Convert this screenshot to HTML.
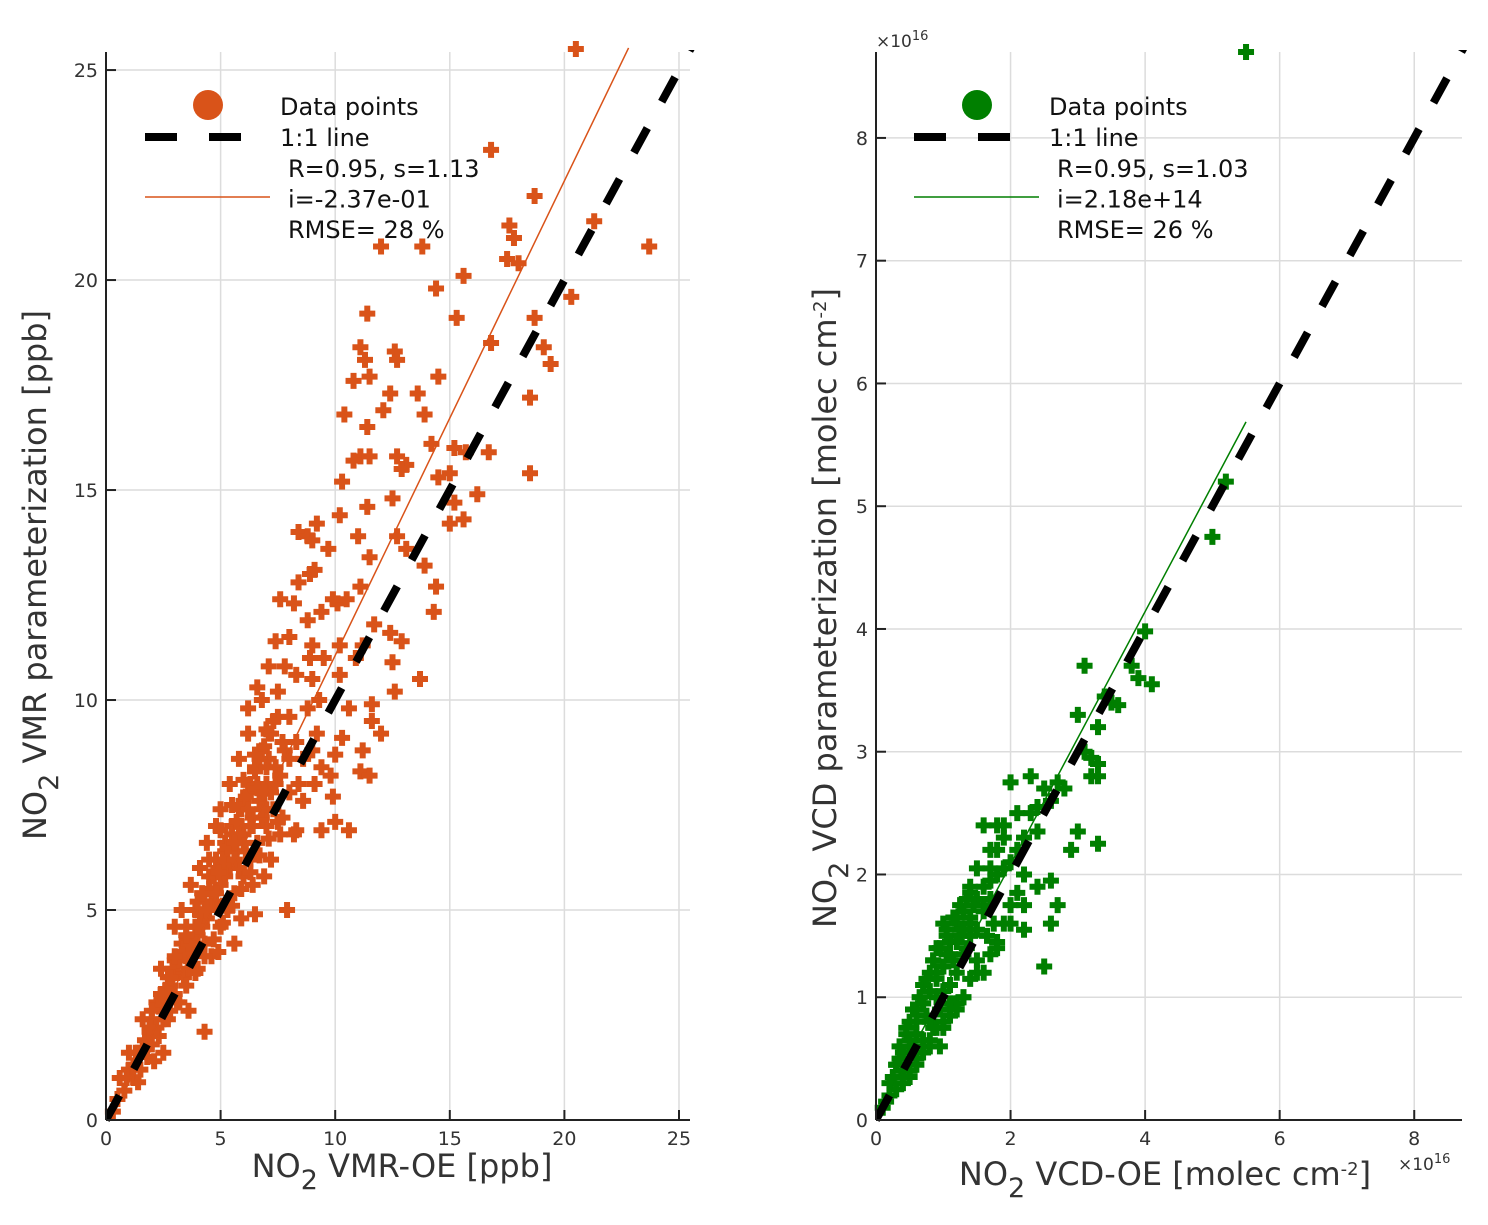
<!DOCTYPE html>
<html><head><meta charset="utf-8"><style>
body{margin:0;background:#fff;}
svg{display:block;font-family:"DejaVu Sans","Liberation Sans",sans-serif;}
</style></head><body>
<svg id="chart" width="1488" height="1225" viewBox="0 0 1488 1225" xmlns="http://www.w3.org/2000/svg">
<g id="left"></g>
<g id="right"></g>
</svg>
<script>
const leftTicks=[0,5,10,15,20,25];
const rightTicks=[0,2,4,6,8];
const rightYTicks=[0,1,2,3,4,5,6,7,8];
const leftFit={s:1.13,i:-0.237,x0:0.2,x1:22.8};
const rightFit={s:1.03,i:0.0218,x0:0,x1:5.5};
const leftX=[20.5,16.8,18.7,21.3,23.7,17.6,17.8,12.0,13.8,17.5,18.0,20.3,14.4,15.6,11.4,15.3,18.7,19.1,16.8,11.1,11.3,12.6,12.7,19.4,10.8,11.5,14.5,12.4,13.6,18.5,10.4,12.1,13.9,11.4,14.2,12.7,15.2,15.7,11.1,11.5,16.7,10.8,13.1,12.9,15.0,18.5,10.3,14.5,12.5,11.4,16.2,15.2,15.6,15.0,8.4,9.2,8.8,9.0,10.2,11.0,12.7,13.1,9.7,11.5,13.9,8.9,9.1,8.4,11.1,14.4,10.1,7.6,8.2,9.9,10.5,14.3,9.4,8.8,11.7,12.4,7.4,8.0,9.0,10.2,11.2,12.9,9.5,10.9,7.1,7.8,12.5,6.6,9.0,10.2,13.7,12.6,10.6,11.6,11.6,12.0,10.3,11.2,10.0,9.8,11.1,11.5,9.1,9.9,10.0,9.4,10.6,8.3,
0.5,0.8,1,1.2,1.4,1.5,1.7,1.8,2,2,2.2,2.3,2.5,2.5,2.7,2.8,3,3,3.2,3.3,3.4,3.5,3.6,3.8,3.9,4,4,4.2,4.3,4.4,4.5,4.6,4.7,4.8,5,5,5.2,5.3,5.4,5.5,5.6,5.7,5.8,6,6,6.2,6.3,6.4,6.5,6.6,6.7,6.8,7,7,7.2,7.3,7.4,7.5,7.6,7.8,8,8,8.3,8.6,8.8,9.2,6.2,6.8,5.8,5.0,4.4,3.7,3.0,2.4,1.6,1.0,0.6,2.1,3.6,4.9,5.9,6.4,7.2,8.2,8.6,9.4,4.3,2.5,1.4,0.3,5.6,6.9,7.7,7.9,6.5,6.2,5.4,4.8,4.1,3.3,1.6,1.9,2.6,3.9,4.5,5.1,5.8,6.1,7.1,7.5,8.3,8.9,9.3,8.4,9.0,2.8,3.1,3.5,4.2,4.6,5.3,5.9,6.6,7.4,6.8,8.0,2.2,1.2,0.9,3.4,2.9,4.0,5.5,6.3,7.0,7.7,6.0,5.2,4.7,
1.3,1.9,2.3,2.6,2.9,3.2,3.4,3.7,3.9,4.1,4.3,4.5,4.7,4.9,5.1,5.3,5.5,5.7,5.9,6.1,6.3,6.5,6.7,6.9,7.1,7.3,2.0,2.4,2.8,3.2,3.6,4.0,4.4,4.8,5.2,5.6,6.0,6.4,6.8,7.2,7.6,2.7,3.1,3.5,3.9,4.3,4.7,5.1,5.5,5.9,6.3,6.7,7.1,7.5,4.5,5.0,5.5,6.0,6.5,7.0,3.0,3.5,4.0,5.8,6.2,6.6,7.0,4.2,4.9,5.6,6.3,6.9];
const leftY=[25.5,23.1,22.0,21.4,20.8,21.3,21.0,20.8,20.8,20.5,20.4,19.6,19.8,20.1,19.2,19.1,19.1,18.4,18.5,18.4,18.1,18.3,18.1,18.0,17.6,17.7,17.7,17.3,17.3,17.2,16.8,16.9,16.8,16.5,16.1,15.8,16.0,15.9,15.8,15.8,15.9,15.7,15.6,15.5,15.4,15.4,15.2,15.3,14.8,14.6,14.9,14.7,14.3,14.2,14.0,14.2,13.9,13.8,14.4,13.9,13.9,13.6,13.6,13.4,13.2,13.0,13.1,12.8,12.7,12.7,12.3,12.4,12.3,12.4,12.4,12.1,12.1,11.9,11.8,11.6,11.4,11.5,11.3,11.3,11.3,11.4,11.0,11.0,10.8,10.8,10.9,10.3,10.5,10.6,10.5,10.2,9.8,9.9,9.5,9.2,9.1,8.8,8.7,8.2,8.3,8.2,8.0,7.7,7.1,6.9,6.9,6.9,
0.5,0.7,1.2,1.0,1.6,1.2,1.9,1.5,2.4,1.8,2.8,2.0,3.0,2.4,3.4,2.6,3.8,3.0,2.8,4.2,3.4,4.6,3.6,4.0,5.0,3.6,4.4,5.4,4.2,4.8,5.8,3.9,5.2,6.2,4.6,5.6,6.6,5.0,6.0,7.0,5.4,6.4,7.4,5.8,6.8,7.8,6.2,7.2,8.4,6.6,7.6,8.8,7.0,8.0,9.2,7.4,8.4,9.6,6.8,8.8,7.8,9.6,9.0,8.6,9.8,9.2,9.8,10.0,8.6,7.4,6.6,5.6,4.6,3.6,2.4,1.6,1.0,1.4,2.6,4.0,4.8,5.6,6.2,6.8,7.6,8.4,2.1,1.6,0.9,0.2,4.2,5.8,7.2,5.0,4.9,9.2,8.0,7.0,6.0,5.0,1.7,2.1,2.9,4.4,5.0,5.1,6.0,6.4,8.6,10.2,10.6,11.0,10.0,8.0,8.8,3.2,3.5,3.9,4.6,5.4,6.2,7.0,8.0,8.0,7.2,8.6,2.2,1.3,1.0,4.0,3.6,5.0,6.6,7.0,7.4,9.0,7.6,6.4,5.8,
1.6,2.2,2.7,3.1,3.4,3.8,4.0,4.3,4.6,4.9,5.2,5.5,5.8,6.0,6.2,6.5,6.8,7.1,7.4,7.7,8.0,8.3,8.6,8.9,9.2,9.5,2.6,3.0,3.4,3.8,4.2,4.6,5.0,5.4,5.8,6.2,6.6,7.0,7.4,7.8,8.2,2.4,2.8,3.2,3.5,3.9,4.3,4.7,5.1,5.5,5.9,6.3,6.7,7.1,6.2,6.9,7.5,8.1,8.7,9.3,3.9,4.4,5.2,6.8,7.4,7.9,8.4,5.4,5.9,6.6,7.0,7.8];
const rightX=[5.5,5.2,5.0,4.0,4.1,3.9,3.8,3.1,3.5,3.4,3.6,3.3,3.0,3.3,3.2,3.3,3.1,3.2,3.3,2.7,2.8,2.4,2.6,2.0,2.3,2.5,2.9,3.0,2.6,1.8,1.9,1.6,1.8,2.2,2.1,2.6,2.7,2.0,1.7,1.5,1.4,1.6,1.2,1.0,1.3,1.8,2.2,1.5,2.5,
0.1,0.2,0.25,0.3,0.35,0.4,0.45,0.5,0.5,0.55,0.6,0.6,0.65,0.7,0.7,0.75,0.8,0.8,0.85,0.9,0.9,0.95,1.0,1.0,1.05,1.1,1.1,1.15,1.2,1.2,1.25,1.3,1.3,1.35,1.4,1.4,1.5,1.5,1.6,1.6,1.7,1.7,1.8,1.9,2.0,2.1,2.2,0.6,0.8,1.0,1.2,1.4,0.4,0.7,0.9,1.1,1.3,1.5,1.7,1.9,0.3,0.5,0.15,0.85,1.05,1.25,1.45,1.65,2.3,2.4,1.75,0.95,1.15,
0.2,0.3,0.4,0.5,0.6,0.7,0.8,0.9,1.0,1.1,1.2,1.3,1.4,0.35,0.45,0.55,0.65,0.75,0.85,0.95,1.05,1.15,1.25,1.35,0.5,0.7,0.9,1.1,1.3,0.6,0.8,1.0,1.2,1.6,1.8,2.0,2.2,2.4,1.4,1.7,1.9,2.1];
const rightY=[8.7,5.2,4.75,3.98,3.55,3.6,3.7,3.7,3.4,3.45,3.38,3.2,3.3,2.25,2.8,2.9,3.0,2.95,2.8,2.75,2.7,2.55,2.6,2.75,2.8,2.7,2.2,2.35,1.95,2.4,2.3,2.4,2.2,2.0,1.85,1.6,1.75,1.75,2.05,2.05,1.85,1.75,1.65,1.6,1.55,1.45,1.55,1.3,1.25,
0.1,0.2,0.35,0.25,0.5,0.4,0.7,0.55,0.8,0.6,0.9,0.7,1.0,0.65,1.1,0.85,1.2,0.8,1.3,1.0,1.4,0.9,1.25,1.05,1.5,1.1,1.45,1.3,1.6,1.2,1.5,1.35,1.7,1.4,1.6,1.5,1.8,1.55,1.9,1.7,1.95,1.8,2.0,2.05,2.1,2.2,2.3,0.45,0.6,0.75,0.95,1.15,0.3,0.95,1.2,0.95,1.0,1.2,1.35,1.6,0.45,0.35,0.15,0.75,1.35,1.55,1.75,1.5,2.5,2.35,1.6,0.6,0.95,
0.3,0.45,0.55,0.65,0.8,0.95,1.05,1.15,1.25,1.35,1.45,1.55,1.65,0.6,0.75,0.9,1.0,1.15,1.3,1.4,1.55,1.65,1.75,1.8,0.4,0.55,0.75,0.85,1.0,0.5,0.65,0.8,0.9,1.2,1.4,1.6,1.75,1.9,1.9,2.2,2.4,2.5];

const NS='http://www.w3.org/2000/svg';
function el(tag,attrs,parent,txt){const e=document.createElementNS(NS,tag);for(const k in attrs)e.setAttribute(k,attrs[k]);if(txt!==undefined)e.textContent=txt;parent.appendChild(e);return e;}

function panel(g,cfg){
  const sx=v=>cfg.x0+(v-0)*(cfg.x1-cfg.x0)/cfg.xmax;
  const sy=v=>cfg.y0-(v-0)*(cfg.y0-cfg.y1)/cfg.ymax;
  const grid=el('g',{},g);
  
  
  cfg.xt.forEach(t=>{el('line',{x1:sx(t),x2:sx(t),y1:cfg.y0,y2:cfg.y1,stroke:'#dcdcdc','stroke-width':1.5},grid);});
  cfg.yt.forEach(t=>{el('line',{x1:cfg.x0,x2:cfg.x1,y1:sy(t),y2:sy(t),stroke:'#dcdcdc','stroke-width':1.5},grid);});
  const clip=el('clipPath',{id:cfg.id+'clip'},g);
  el('rect',{x:cfg.x0,y:cfg.y1-2,width:cfg.x1-cfg.x0+6,height:cfg.y0-cfg.y1+4},clip);
  const pts=el('g',{fill:cfg.color},g);
  
  
  cfg.X.forEach((x,i)=>{
    const px=sx(x),py=sy(cfg.Y[i]);
    const p=el('path',{d:`M${px-8},${py-3}h5v-5h6v5h5v6h-5v5h-6v-5h-5z`},pts);
    
    
  });
  const f=cfg.fit;
  const fl=el('line',{x1:sx(f.x0),y1:sy(f.s*f.x0+f.i),x2:sx(f.x1),y2:sy(f.s*f.x1+f.i),stroke:cfg.color,'stroke-width':1.5},g);
  
  
  const one=el('line',{x1:sx(0),y1:sy(0),x2:sx(cfg.xmax+0.2),y2:sy(cfg.xmax+0.2),stroke:'#000','stroke-width':8,'stroke-dasharray':'28,30','clip-path':`url(#${cfg.id}clip)`},g);
  
  
  const ax=el('g',{stroke:'#222','stroke-width':2},g);
  
  
  el('line',{x1:cfg.x0,y1:cfg.y1,x2:cfg.x0,y2:cfg.y0},ax);
  el('line',{x1:cfg.x0,y1:cfg.y0,x2:cfg.x1,y2:cfg.y0},ax);
  cfg.xt.forEach(t=>{el('line',{x1:sx(t),x2:sx(t),y1:cfg.y0,y2:cfg.y0-10},ax);});
  cfg.yt.forEach(t=>{el('line',{x1:cfg.x0,x2:cfg.x0+10,y1:sy(t),y2:sy(t)},ax);});
  const lab=el('g',{fill:'#333','font-size':19},g);
  
  
  cfg.xt.forEach(t=>{el('text',{x:sx(t),y:cfg.y0+25,'text-anchor':'middle'},lab,String(t));});
  cfg.yt.forEach(t=>{el('text',{x:cfg.x0-8,y:sy(t)+7,'text-anchor':'end'},lab,String(t));});
  return {sx,sy};
}
const L=document.getElementById('left'),R=document.getElementById('right');
panel(L,{id:'l',x0:106,x1:690,y0:1120,y1:52,xmax:25.48,ymax:25.43,xt:leftTicks,yt:leftTicks,X:leftX,Y:leftY,color:'#d95319',fit:leftFit});
panel(R,{id:'r',x0:876,x1:1462,y0:1120,y1:52,xmax:8.71,ymax:8.7,xt:rightTicks,yt:rightYTicks,X:rightX,Y:rightY,color:'#007f00',fit:rightFit});

function legend(g,x,color,lines){
  const lg=el('g',{'font-size':24,fill:'#111'},g);
  
  
  el('circle',{cx:x+63,cy:105,r:15,fill:color},lg);
  el('line',{x1:x,y1:137,x2:x+98,y2:137,stroke:'#000','stroke-width':8,'stroke-dasharray':'32,32'},lg);
  el('line',{x1:x,y1:197,x2:x+125,y2:197,stroke:color,'stroke-width':1.5},lg);
  el('text',{x:x+135,y:115},lg,'Data points');
  el('text',{x:x+135,y:146},lg,'1:1 line');
  lines.forEach((t,i)=>el('text',{x:x+143,y:177+i*30.5},lg,t));
}
legend(L,145,'#d95319',['R=0.95, s=1.13','i=-2.37e-01','RMSE= 28 %']);
legend(R,914,'#007f00',['R=0.95, s=1.03','i=2.18e+14','RMSE= 26 %']);

const S=document.getElementById('chart');
function label(x,y,rot,parts,name){
  const t=el('text',{x:x,y:y,'text-anchor':'middle','font-size':32,fill:'#333',transform:rot?`rotate(-90 ${x} ${y})`:''},S);
  
  
  parts.forEach(p=>{el('tspan',p.a||{},t,p.t);});
}
label(402,1177,false,[{t:'NO'},{t:'2',a:{dy:12,'font-size':27}},{t:' VMR-OE [ppb]',a:{dy:-12}}],'x-axis-title-left');
label(46,575,true,[{t:'NO'},{t:'2',a:{dy:12,'font-size':27}},{t:'   VMR parameterization [ppb]',a:{dy:-12}}],'y-axis-title-left');
label(1165,1185,false,[{t:'NO'},{t:'2',a:{dy:12,'font-size':27}},{t:' VCD-OE [molec cm',a:{dy:-12}},{t:'-2',a:{dy:-10,'font-size':18}},{t:']',a:{dy:10}}],'x-axis-title-right');
label(836,608,true,[{t:'NO'},{t:'2',a:{dy:12,'font-size':27}},{t:'  VCD parameterization [molec cm',a:{dy:-12}},{t:'-2',a:{dy:-10,'font-size':18}},{t:']',a:{dy:10}}],'y-axis-title-right');
const e1=el('text',{x:876,y:47,'font-size':17,fill:'#333'},S);


el('tspan',{},e1,'×10');el('tspan',{dy:-7,'font-size':13},e1,'16');
const e2=el('text',{x:1398,y:1170,'font-size':17,fill:'#333'},S);


el('tspan',{},e2,'×10');el('tspan',{dy:-7,'font-size':13},e2,'16');
</script>
</body></html>
